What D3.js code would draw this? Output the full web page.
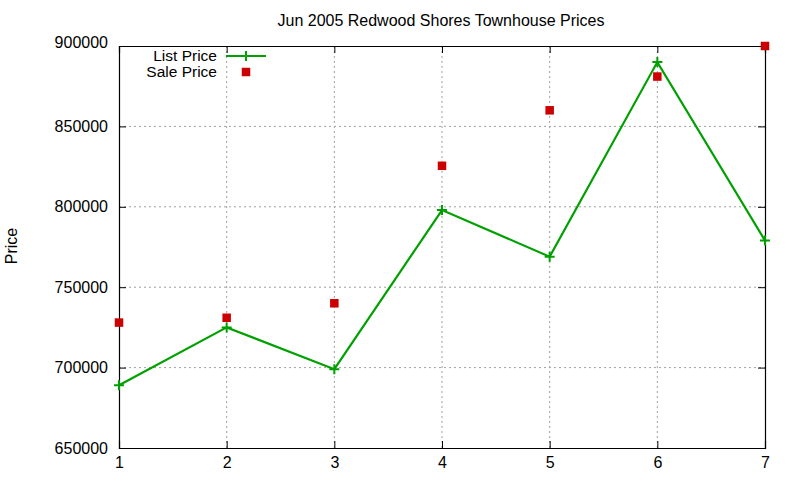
<!DOCTYPE html>
<html>
<head>
<meta charset="utf-8">
<script src="https://cdn.jsdelivr.net/npm/d3@7"></script>
<style>
  body { margin: 0; background: #fff; }
  text { font-family: "Liberation Sans", Arial, sans-serif; fill: #000; }
</style>
</head>
<body>
<svg id="chart" width="800" height="480"></svg>
<script>
const months = [1, 2, 3, 4, 5, 6, 7];
const listPrice = [689000, 725000, 699000, 798000, 769000, 890000, 779000];
const salePrice = [728000, 731000, 740000, 825500, 860000, 881000, 900000];
const yTicks = [650000, 700000, 750000, 800000, 850000, 900000];

const svg = d3.select("#chart");
const margin = {top: 46, right: 35, bottom: 32, left: 119};
const width = 800 - margin.left - margin.right;
const height = 480 - margin.top - margin.bottom;
const g = svg.append("g").attr("transform", `translate(${margin.left},${margin.top})`);

const x = d3.scaleLinear().domain([1, 7]).range([0, width]);
const y = d3.scaleLinear().domain([650000, 900000]).range([height, 0]);

// grid
g.append("g").selectAll("line").data(months.slice(1, -1)).enter().append("line")
  .attr("x1", d => x(d)).attr("x2", d => x(d)).attr("y1", 0).attr("y2", height)
  .attr("stroke", "#a0a0a0").attr("stroke-dasharray", "2,3").attr("stroke-width", 1);
g.append("g").selectAll("line").data(yTicks.slice(1, -1)).enter().append("line")
  .attr("x1", 0).attr("x2", width).attr("y1", d => y(d)).attr("y2", d => y(d))
  .attr("stroke", "#a0a0a0").attr("stroke-dasharray", "2,3").attr("stroke-width", 1);

// axes
const xAxis = g.append("g").attr("transform", `translate(0,${height})`)
  .call(d3.axisBottom(x).tickValues(months).tickSize(-7).tickPadding(9).tickFormat(d3.format("d")));
const xTop = g.append("g")
  .call(d3.axisTop(x).tickValues(months).tickSize(-7).tickFormat(""));
const yAxis = g.append("g")
  .call(d3.axisLeft(y).tickValues(yTicks).tickSize(-7).tickPadding(11).tickFormat(d3.format("d")));
const yRight = g.append("g").attr("transform", `translate(${width},0)`)
  .call(d3.axisRight(y).tickValues(yTicks).tickSize(-7).tickFormat(""));
[xAxis, xTop, yAxis, yRight].forEach(a => {
  a.select(".domain").attr("stroke", "#000").attr("stroke-width", 1.2);
  a.selectAll(".tick line").attr("stroke", "#000");
  a.selectAll("text").attr("font-size", 16).attr("font-family", "Liberation Sans, Arial, sans-serif").attr("fill", "#000");
});
// top label sits a little above its tick, as in the original
yAxis.selectAll(".tick text").filter(d => d === 900000).attr("dy", "0.12em");

// list price line
const line = d3.line().x((d, i) => x(months[i])).y(d => y(d));
g.append("path").datum(listPrice).attr("d", line)
  .attr("fill", "none").attr("stroke", "#00a000").attr("stroke-width", 2.2);

const plus = (sel, cx, cy) => {
  sel.append("path")
    .attr("d", `M${cx - 5},${cy}H${cx + 5}M${cx},${cy - 5}V${cy + 5}`)
    .attr("stroke", "#00a000").attr("stroke-width", 2);
};
listPrice.forEach((d, i) => plus(g, x(months[i]), y(d)));

g.append("g").selectAll("rect").data(salePrice).enter().append("rect")
  .attr("x", (d, i) => x(months[i]) - 4.25).attr("y", d => y(d) - 4.25)
  .attr("width", 8.5).attr("height", 8.5).attr("fill", "#cc0000");

// legend
const leg = svg.append("g");
leg.append("text").attr("x", 217).attr("y", 61).attr("text-anchor", "end")
  .attr("font-size", 15.5).text("List Price");
leg.append("line").attr("x1", 226).attr("x2", 266).attr("y1", 56).attr("y2", 56)
  .attr("stroke", "#00a000").attr("stroke-width", 2.2);
plus(leg, 246, 56);
leg.append("text").attr("x", 217).attr("y", 77).attr("text-anchor", "end")
  .attr("font-size", 15.5).text("Sale Price");
leg.append("rect").attr("x", 241.75).attr("y", 67.75).attr("width", 8.5).attr("height", 8.5).attr("fill", "#cc0000");

// title and label
svg.append("text").attr("x", 441).attr("y", 26).attr("text-anchor", "middle")
  .attr("font-size", 16).text("Jun 2005 Redwood Shores Townhouse Prices");
svg.append("text").attr("transform", "translate(17,246) rotate(-90)").attr("text-anchor", "middle")
  .attr("font-size", 16).text("Price");
</script>
</body>
</html>
